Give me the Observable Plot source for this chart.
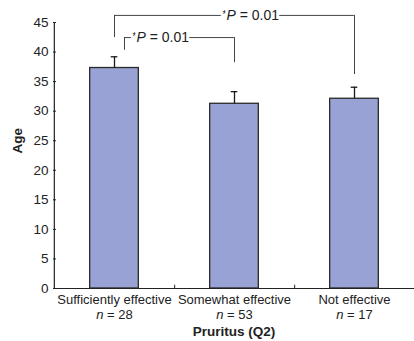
<!DOCTYPE html>
<html><head><meta charset="utf-8">
<script src="https://cdn.jsdelivr.net/npm/d3@7"></script>
<script src="https://cdn.jsdelivr.net/npm/@observablehq/plot@0.6"></script>
<style>
  html, body { margin: 0; padding: 0; background: #fff; }
  svg { display: block; }
</style>
</head><body><div id="chart"></div>
<script>
// ---- data ----
const categories = ["Sufficiently effective", "Somewhat effective", "Not effective"];
const sampleSizes = [28, 53, 17];
const meanAge = [37.3, 31.25, 32.1];
const errorUpper = [39.2, 33.3, 34.05];
const yTicks = [0, 5, 10, 15, 20, 25, 30, 35, 40, 45];
const yLabel = "Age";
const xLabel = "Pruritus (Q2)";
// significance brackets: from/to category index, leg-end values and bracket level
const bracketFrom = [0, 0];
const bracketTo = [1, 2];
const bracketFromEnd = [40.3, 42.45];
const bracketToEnd = [38.2, 36.2];
const bracketLevel = [42.45, 46.2];
const bracketText = ["*P = 0.01", "*P = 0.01"];

// ---- layout / style ----
const W = 414, H = 341, mL = 53, mR = 0, mT = 22, mB = 53;
const step = (W - mL - mR) / categories.length;
const barWidth = 49, capWidth = 7;
const barInset = (step - barWidth) / 2;
const capInset = (step - capWidth) / 2;
const ink = "#222";
const legOffset = [10, 0];      // horizontal offset (px) of the left leg of each bracket
const textAnchorCat = [0, 1];   // category the label is attached to
const textDx = [18, -12];

const rows = categories.map((c, i) => ({cat: c, n: sampleSizes[i], mean: meanAge[i], err: errorUpper[i]}));
const brackets = bracketFrom.map((f, i) => ({
  a: categories[f], b: categories[bracketTo[i]], ya: bracketFromEnd[i], yb: bracketToEnd[i],
  level: bracketLevel[i], label: bracketText[i], off: legOffset[i],
  tcat: categories[textAnchorCat[i]], tdx: textDx[i]
}));

const bracketMarks = brackets.flatMap(b => [
  Plot.ruleX([b], {x: "a", y1: "ya", y2: "level", dx: b.off, stroke: "#444", strokeWidth: 1}),
  Plot.ruleX([b], {x: "b", y1: "yb", y2: "level", stroke: "#444", strokeWidth: 1}),
  Plot.ruleY([b], {y: "level", x1: "a", x2: "b", insetLeft: step / 2 + b.off, insetRight: step / 2,
    stroke: "#444", strokeWidth: 1}),
  Plot.text([b], {x: "tcat", y: "level", text: "label", dx: b.tdx, textAnchor: "start",
    fill: ink, stroke: "white", strokeWidth: 6, fontSize: 14})
]);

const chart = Plot.plot({
  width: W, height: H,
  marginLeft: mL, marginRight: mR, marginTop: mT, marginBottom: mB,
  style: {fontFamily: "'Liberation Sans', Arial, Helvetica, sans-serif", fontSize: "13px", color: ink, background: "#fff"},
  x: {type: "band", domain: categories, padding: 0, axis: null},
  y: {domain: [0, 45], axis: null},
  marks: [
    Plot.barY(rows, {x: "cat", y: "mean", fill: "#99a2d4", stroke: "#2a2a2a", strokeWidth: 1.3,
      insetLeft: barInset, insetRight: barInset}),
    Plot.ruleX(rows, {x: "cat", y1: "mean", y2: "err", stroke: "#1a1a1a", strokeWidth: 1.3}),
    Plot.tickY(rows, {x: "cat", y: "err", stroke: "#1a1a1a", strokeWidth: 1.3, insetLeft: capInset, insetRight: capInset}),
    // axes
    Plot.ruleY([0], {stroke: ink, strokeWidth: 1.2}),
    Plot.ruleX([categories[0]], {dx: -step / 2, y1: 0, y2: 45, stroke: ink, strokeWidth: 1.2}),
    Plot.ruleX(categories, {dx: step / 2, y1: 0, y2: 0.55, stroke: ink, strokeWidth: 1}),
    Plot.ruleY(yTicks, {insetRight: W - mL - mR - 3, stroke: ink, strokeWidth: 1}),
    Plot.axisY({ticks: yTicks, tickSize: 0, tickPadding: 5, label: null, fontSize: 13.5, fill: ink}),
    Plot.text(rows, {x: "cat", text: "cat", frameAnchor: "bottom", dy: 15, fill: ink, fontSize: 13}),
    Plot.text(rows, {x: "cat", text: d => "n = " + d.n, frameAnchor: "bottom", dy: 30, fill: ink, fontSize: 13}),
    Plot.text([xLabel], {frameAnchor: "bottom", dy: 47, fontWeight: "bold", fill: ink, fontSize: 13.5}),
    Plot.text([yLabel], {frameAnchor: "left", dx: -36, dy: -2, rotate: -90, fontWeight: "bold", fill: ink, fontSize: 13.5}),
    ...bracketMarks
  ]
});

// rich text: italic n and P, small raised asterisk
d3.select(chart).selectAll("text").each(function () {
  const t = this.textContent;
  const sel = d3.select(this);
  let m;
  if ((m = t.match(/^n = (\d+)$/))) {
    sel.text(null);
    sel.append("tspan").attr("font-style", "italic").text("n");
    sel.append("tspan").text(" = " + m[1]);
  } else if ((m = t.match(/^\*P = (.+)$/))) {
    sel.text(null);
    sel.append("tspan").attr("font-size", 10).attr("dy", -2).text("*");
    sel.append("tspan").attr("font-style", "italic").attr("dy", 2).text("P");
    sel.append("tspan").text(" = " + m[1]);
  }
});

document.getElementById("chart").append(chart);
</script>
</body></html>
